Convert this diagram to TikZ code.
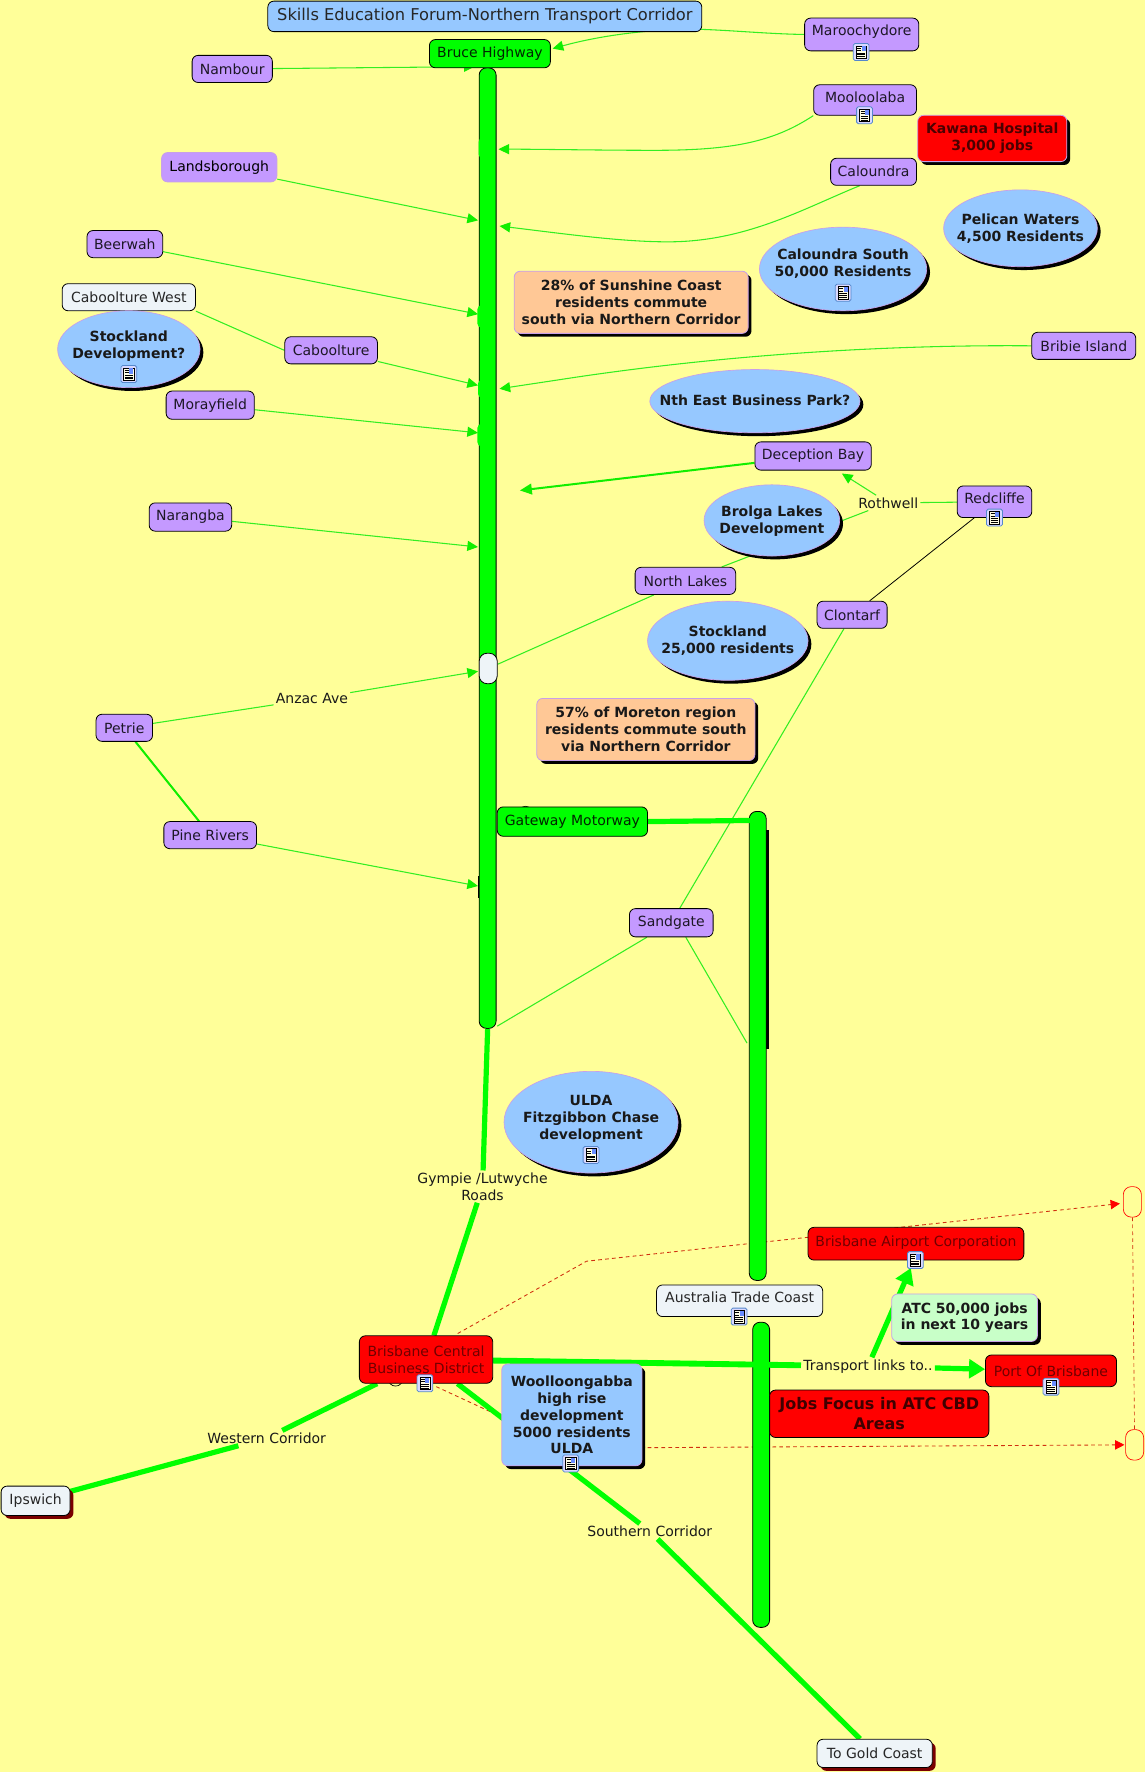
\documentclass[tikz,border=0pt]{standalone}
\usepackage{fontspec}
\setmainfont{DejaVu Sans}
\usetikzlibrary{arrows.meta,shapes.geometric,shadows}
\definecolor{bgy}{HTML}{FFFF99}
\definecolor{pur}{HTML}{C499FF}
\definecolor{blu}{HTML}{96C8FF}
\definecolor{lav}{HTML}{C8A0E8}
\definecolor{gre}{HTML}{00FF00}
\definecolor{thin}{HTML}{33EE22}
\definecolor{tipg}{HTML}{11EE00}
\definecolor{wht}{HTML}{EEF4F8}
\definecolor{ora}{HTML}{FFC896}
\definecolor{mint}{HTML}{C8FFC8}
\definecolor{mar}{HTML}{7A0000}
\definecolor{rtext}{HTML}{700000}
\definecolor{dash}{HTML}{D03010}
\definecolor{iconb}{HTML}{5588CC}
\pgfdeclarelayer{bg}\pgfdeclarelayer{dashl}\pgfdeclarelayer{bars}\pgfdeclarelayer{edges}
\pgfsetlayers{bg,dashl,bars,edges,main}
\newcommand\unitv{0.84773}
\newcommand\bx[7]{%
\pgfmathsetmacro\ccx{(#3+#5)/2}\pgfmathsetmacro\ccy{(#4+#6)/2}%
\pgfmathsetmacro\www{(#5-#3)*\unitv}\pgfmathsetmacro\hhh{(#6-#4)*\unitv}%
\node[#1,minimum width=\www pt,minimum height=\hhh pt] (#2) at (\ccx,\ccy) {#7};}
% zero-size text so that an ellipse keeps the size it is given
\newcommand\ztext[2][0]{\makebox[0pt][c]{\raisebox{\dimexpr #1pt-3.6pt\relax}[0pt][0pt]{\begin{tabular}[c]{@{}c@{}}#2\end{tabular}}}}
\tikzset{
 x=0.84773pt,y=-0.84773pt,
 base/.style={inner sep=0pt,align=center,font=\fontsize{10.5}{12.7}\selectfont},
 rr/.style={base,rectangle,rounded corners=4.5pt,line width=.6pt,draw=black},
 purbox/.style={rr,fill=pur,text=black!85!pur},
 purlav/.style={rr,fill=pur,draw=lav},
 whtbox/.style={rr,fill=wht,text=black!85},
 whtshadow/.style={whtbox,general shadow={shadow xshift=2.5pt,shadow yshift=-2.5pt,fill=mar}},
 grebox/.style={rr,fill=gre,text=black!85!gre},
 redbox/.style={rr,fill=red,text=rtext},
 boldfont/.style={font=\fontsize{10.5}{12.7}\selectfont\bfseries,text=black!90},
 boldbox/.style={rr,boldfont,draw=lav,general shadow={shadow xshift=2.5pt,shadow yshift=-2.5pt,fill=black}},
 elli/.style={inner sep=0pt,boldfont,ellipse,fill=blu,draw=lav,line width=.5pt,general shadow={shadow xshift=2.5pt,shadow yshift=-2.5pt,fill=black}},
 barbox/.style={rr,fill=gre,rounded corners=5.5pt},
 lbl/.style={inner sep=1.5pt,align=center,font=\fontsize{10.5}{12.7}\selectfont,text=black!90},
 thinedge/.style={draw=thin,line width=.8pt},
 thinarrow/.style={thinedge,-{Triangle[length=8pt,width=7.5pt,color=tipg]}},
 midedge/.style={draw=tipg,line width=1.5pt},
 midarrow/.style={midedge,-{Triangle[length=9pt,width=8pt,color=tipg]}},
 thickedge/.style={draw=gre,line width=3.9pt},
 thickarrow/.style={thickedge,-{Triangle[length=12pt,width=14pt,color=gre]}},
 dashedge/.style={draw=dash,line width=.65pt,dash pattern=on 2.8pt off 2.4pt},
 dasharrow/.style={dashedge,-{Triangle[length=7pt,width=7pt,color=red]}},
 docicon/.pic={
  \draw[rounded corners=1.2pt,draw=iconb,fill=white!85!blue,line width=.6pt] (-7,-7.5) rectangle (7,7.5);
  \draw[fill=white!90!yellow,draw=black,line width=.4pt] (-4.5,-5.5) rectangle (4.5,5.5);
  \fill[blu!70!blue] (.5,-5) rectangle (4,-.5);
  \draw[line width=.4pt] (-3.5,-3.5)--(0,-3.5) (-3.5,-1.5)--(0,-1.5) (-3.5,.7)--(3.5,.7) (-3.5,2.4)--(3.5,2.4) (-3.5,4)--(3.5,4);
 }
}
\begin{document}
\begin{tikzpicture}
\begin{pgfonlayer}{bg}
\fill[bgy] (0,0) rectangle (1013,1568);
\end{pgfonlayer}
\useasboundingbox (0,0) rectangle (1013,1568);
% bars
\begin{pgfonlayer}{bars}
\fill[black] (678,734) rectangle (680.5,928);
\fill[black] (423,775) rectangle (425,795);
\bx{barbox}{lbar}{424}{60}{439}{910}{}
\bx{barbox}{rbarA}{663}{718}{678}{1133}{}
\bx{barbox}{rbarB}{666}{1170}{681}{1440}{}
\fill[gre,rounded corners=3pt] (423.5,122) rectangle (434,140);
\fill[gre,rounded corners=3pt] (422.5,270) rectangle (434,290);
\fill[gre,rounded corners=3pt] (423,336) rectangle (434,352);
\fill[gre,rounded corners=3pt] (422.5,375) rectangle (434,395);
\end{pgfonlayer}
% nodes
\bx{rr,fill=blu,font=\fontsize{12.2}{13}\selectfont,text=black!85}{title}{237}{1}{621}{28}{Skills Education Forum-Northern Transport Corridor}
\bx{grebox}{bruce}{380}{35}{487}{60}{Bruce Highway}
\bx{purbox}{nambour}{170}{49}{241}{73}{Nambour}
\bx{purbox,text depth=6pt}{maroo}{712}{16}{813}{45}{Maroochydore}
\bx{purbox,text depth=4pt}{moolo}{720}{75}{811}{102}{Mooloolaba}
\bx{boldbox,fill=red,text=black!70!red}{kawana}{812}{102}{944}{143}{Kawana Hospital\\3,000 jobs}
\bx{purbox}{calou}{735}{140}{811}{164}{Caloundra}
\bx{elli}{pelican}{835}{168}{971}{236}{\ztext{Pelican Waters\\4,500 Residents}}
\bx{elli}{calsouth}{672}{201}{820}{275}{\ztext[4]{Caloundra South\\50,000 Residents}}
\bx{purlav}{landsb}{143}{135}{245}{161}{Landsborough}
\bx{purbox}{beerwah}{77}{204}{144}{228}{Beerwah}
\bx{whtbox}{cabwest}{55}{251}{173}{275}{Caboolture West}
\bx{elli}{stockdev}{51}{275}{177}{343}{\ztext[3]{Stockland\\Development?}}
\bx{purbox}{caboolt}{252}{298}{334}{322}{Caboolture}
\bx{purbox}{moray}{147}{346}{225}{371}{Morayfield}
\bx{boldbox,fill=ora}{pctA}{455}{240}{662}{295}{28\% of Sunshine Coast\\residents commute\\south via Northern Corridor}
\bx{purbox}{bribie}{913}{294}{1005}{318}{Bribie Island}
\bx{elli}{nthpark}{575}{327}{761}{383}{\ztext{Nth East Business Park?}}
\bx{purbox}{decep}{668}{391}{771}{416}{Deception Bay}
\bx{purbox,text depth=5pt}{redcl}{847}{430}{913}{458}{Redcliffe}
\bx{elli}{brolga}{623}{429}{743}{492}{\ztext{Brolga Lakes\\Development}}
\bx{purbox}{narang}{132}{445}{205}{470}{Narangba}
\bx{purbox}{northl}{562}{502}{651}{526}{North Lakes}
\bx{purbox}{clont}{723}{532}{785}{556}{Clontarf}
\bx{elli}{stock}{573}{532}{715}{602}{\ztext{Stockland\\25,000 residents}}
\bx{whtbox,rounded corners=6pt}{whiten}{424}{578}{440}{605}{}
\bx{purbox}{petrie}{85}{632}{135}{656}{Petrie}
\bx{purbox}{pine}{145}{727}{227}{751}{Pine Rivers}
\bx{boldbox,fill=ora}{pctB}{475}{618}{668}{673}{57\% of Moreton region\\residents commute south\\via Northern Corridor}
\bx{grebox}{gateway}{440}{714}{573}{740}{Gateway Motorway}
\bx{purbox}{sandg}{557}{804}{631}{829}{Sandgate}
\bx{elli}{ulda}{446}{948}{600}{1038}{\ztext[3.5]{ULDA\\Fitzgibbon Chase\\development}}
\bx{redbox,text depth=4pt}{airport}{715}{1086}{906}{1115}{Brisbane Airport Corporation}
\bx{rr,draw=red,fill=bgy,rounded corners=6pt,line width=.5pt}{smallA}{994}{1050}{1010}{1077}{}
\bx{rr,draw=red,fill=bgy,rounded corners=6pt,line width=.5pt}{smallB}{996}{1265}{1012}{1292}{}
\bx{whtbox,text depth=5pt}{atc}{581}{1137}{728}{1165}{Australia Trade Coast}
\bx{boldbox,fill=mint}{jobsn}{789}{1145}{918}{1187}{ATC 50,000 jobs\\in next 10 years}
\bx{redbox}{port}{872}{1199}{988}{1227}{Port Of Brisbane}
\bx{rr,fill=red,font=\fontsize{12}{15.2}\selectfont\bfseries,text=black!75!red}{focus}{681}{1230}{875}{1272}{Jobs Focus in ATC CBD\\Areas}
\bx{redbox}{cbd}{318}{1182}{436}{1224}{Brisbane Central\\Business District}
\bx{boldbox,fill=blu}{wool}{444}{1207}{568}{1297}{Woolloongabba\\high rise\\development\\5000 residents\\ULDA}
\bx{whtshadow}{ipswich}{1}{1315}{62}{1341}{Ipswich}
\bx{whtshadow}{gold}{723}{1539}{825}{1564}{To Gold Coast}
% labels
\node[lbl] (rothwell) at (786,445) {Rothwell};
\node[lbl] (anzac) at (276,618.5) {Anzac Ave};
\node[lbl] (gympie) at (427,1050) {Gympie /Lutwyche\\Roads};
\node[lbl] (transport) at (768,1209) {Transport links to..};
\node[lbl] (western) at (236,1272.5) {Western Corridor};
\node[lbl] (southern) at (575,1355) {Southern Corridor};
% free ends
\coordinate (tNam) at (420,59);
\coordinate (tMaro) at (489,43);
\coordinate (tMoo) at (441,132);
\coordinate (tCal) at (442,200);
\coordinate (tLan) at (423,195);
\coordinate (tBee) at (423,278);
\coordinate (tCab) at (423,341);
\coordinate (tBri) at (442,344);
\coordinate (tMor) at (423,383);
\coordinate (tDec) at (460,434);
\coordinate (tRot) at (745,419);
\coordinate (tNar) at (423,484);
\coordinate (tAnz) at (423,594);
\coordinate (tPin) at (423,784);
\coordinate (sandL) at (440,908);
\coordinate (sandR) at (661,923);
\coordinate (gwEnd) at (664,726);
\coordinate (tAir) at (806,1122);
\coordinate (dA) at (405,1180);
\coordinate (dB) at (519,1116);
\coordinate (dC) at (991,1065);
\coordinate (dD) at (386,1227);
\coordinate (dE) at (440,1252);
\coordinate (dF) at (573,1281);
\coordinate (dG) at (995,1278.5);
% dashed, beneath the bars
\begin{pgfonlayer}{dashl}
\draw[dasharrow] (dA) -- (dB) -- (dC);
\draw[dashedge] (dD) -- (dE) -- (dF);
\draw[dasharrow] (dF) -- (dG);
\draw[dashedge,line width=.5pt] (smallA) -- (smallB);
\end{pgfonlayer}
% connectors
\begin{pgfonlayer}{edges}
\draw[black,fill=bgy,line width=.5pt] (465,720) circle (6.5);
\draw[black,fill=bgy,line width=.5pt] (350,1220) circle (6.5);
\draw[thinarrow] (nambour) -- (tNam);
\draw[thinarrow] (maroo.west) .. controls (680,30) and (650,27) .. (621,26) .. controls (590,25) and (540,29) .. (tMaro);
\draw[thinarrow] (moolo.south west) .. controls (685,125) and (650,133) .. (580,133) .. controls (530,133) and (480,132) .. (tMoo);
\draw[thinarrow] (calou.225) .. controls (710,185) and (660,214) .. (591,214) .. controls (550,214) and (500,207) .. (tCal);
\draw[thinarrow] (landsb) -- (tLan);
\draw[thinarrow] (beerwah) -- (tBee);
\draw[thinedge] (cabwest.south east) -- (caboolt.west);
\draw[thinarrow] (caboolt) -- (tCab);
\draw[thinarrow] (moray) -- (tMor);
\draw[thinarrow] (bribie.west) .. controls (800,305) and (650,312) .. (495,336) -- (tBri);
\draw[midarrow] (decep) -- (tDec);
\draw[thinedge] (redcl) -- (rothwell);
\draw[thinarrow] (rothwell) -- (tRot);
\draw[thinedge] (rothwell) -- (northl);
\draw[thinedge] (northl) -- (whiten);
\draw[draw=black,line width=.6pt] (redcl) -- (clont);
\draw[thinedge] (clont) -- (sandg);
\draw[thinedge] (sandg) -- (sandL);
\draw[thinedge] (sandg.-45) -- (sandR);
\draw[thinarrow] (narang) -- (tNar);
\draw[thinedge] (petrie) -- (anzac);
\draw[thinarrow] (anzac) -- (tAnz);
\draw[midedge] (petrie) -- (pine);
\draw[thinarrow] (pine) -- (tPin);
\draw[thickedge] (gateway.east) -- (gwEnd);
\draw[thickedge] (lbar.south) -- (gympie);
\draw[thickedge] (gympie) -- (cbd);
\draw[thickedge] (cbd) -- (western);
\draw[thickedge] (western) -- (ipswich);
\draw[thickedge] (cbd) -- (southern);
\draw[thickedge] (southern) -- (gold);
\draw[thickedge,line width=4.4pt] (cbd) -- (transport);
\draw[thickarrow] (transport) -- (tAir);
\draw[thickarrow] (transport) -- (port);
\end{pgfonlayer}
% icons
\foreach \ix/\iy in {762/46,765/102,880/458,746/259,114/331,523/1022,810/1115,654/1165,930/1227,376/1224,505/1295}
  \pic at (\ix,\iy) {docicon};
\end{tikzpicture}
\end{document}
